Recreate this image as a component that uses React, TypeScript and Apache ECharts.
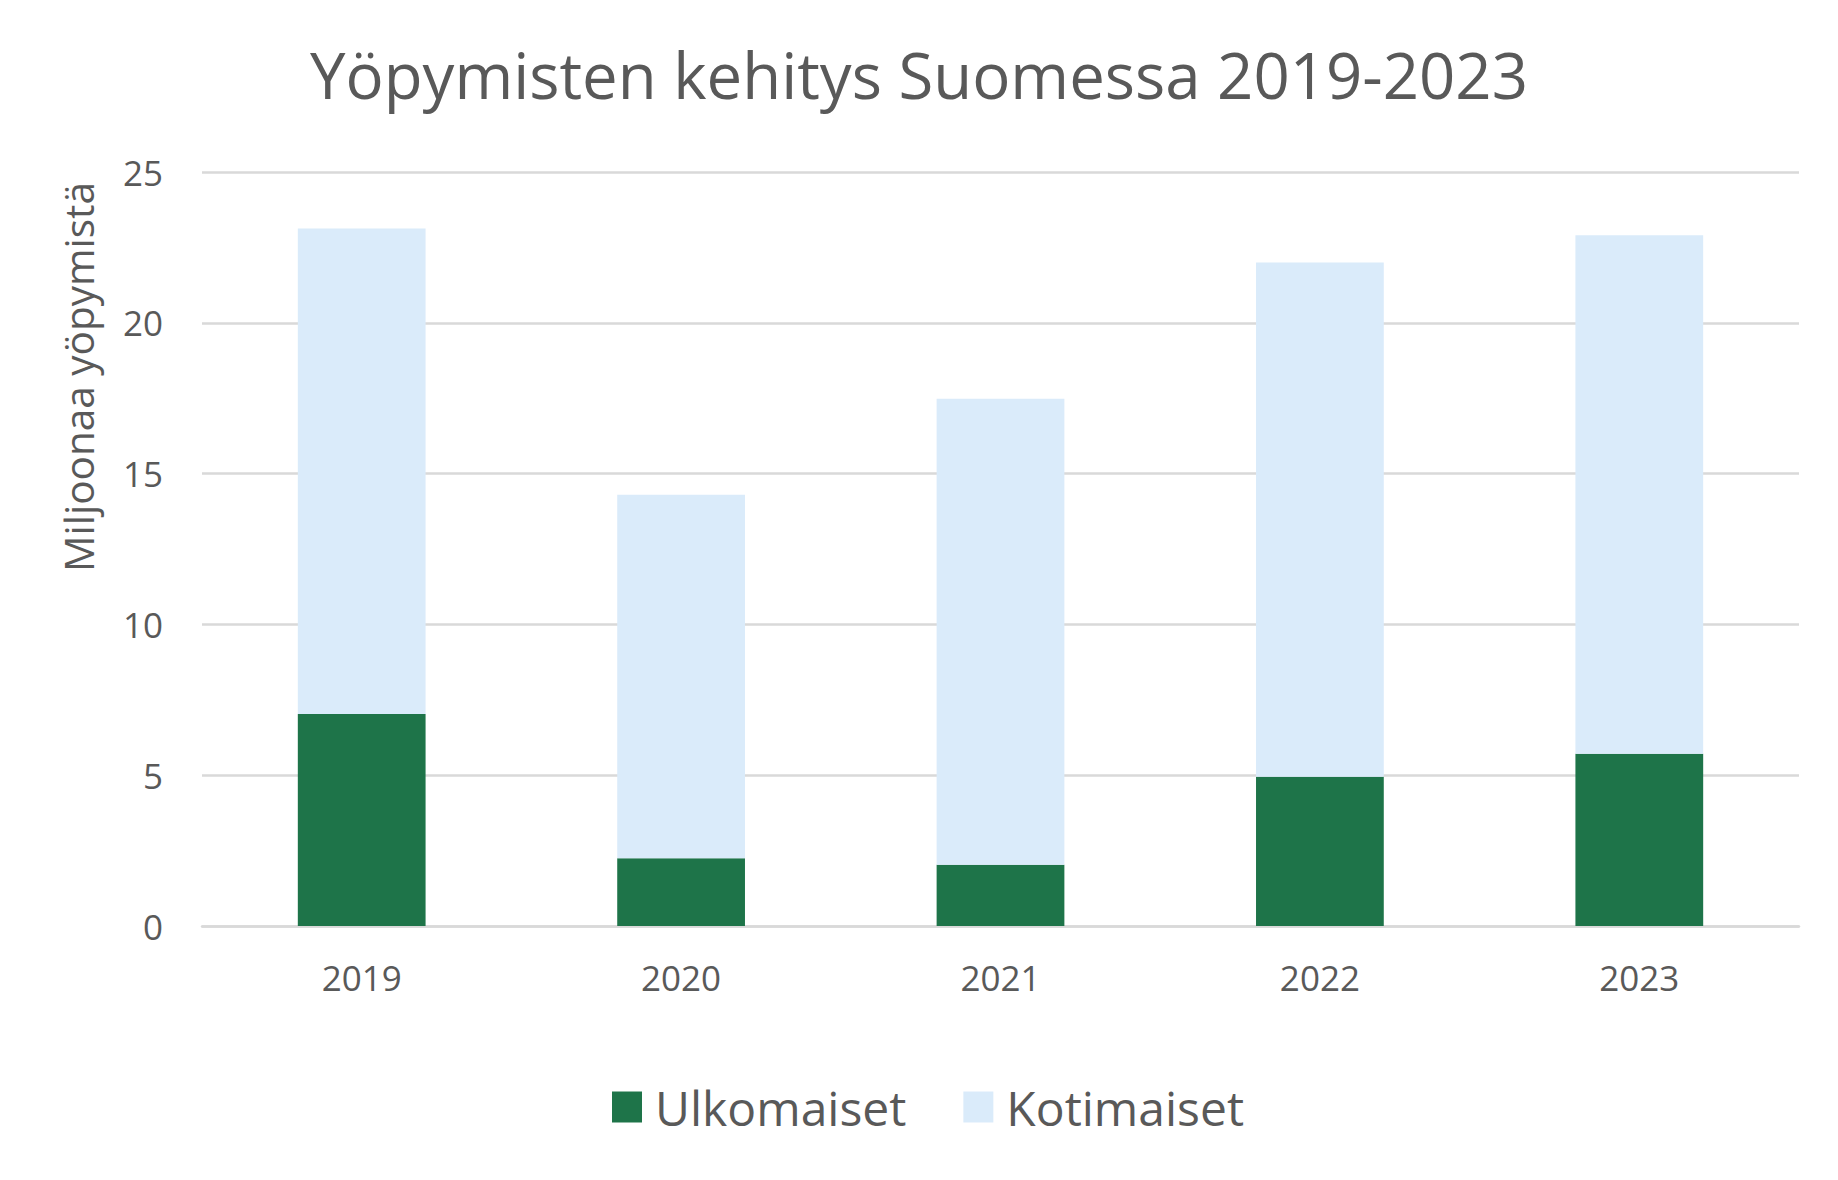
import React, { useEffect, useRef } from "react";
import * as echarts from "echarts";

const categories = ["2019", "2020", "2021", "2022", "2023"];
const ulkomaiset = [7.03, 2.25, 2.03, 4.95, 5.71];
const kotimaiset = [16.1, 12.05, 15.45, 17.05, 17.19];
const seriesNames = ["Ulkomaiset", "Kotimaiset"];
const titleText = "Yöpymisten kehitys Suomessa 2019-2023";
const yAxisName = "Miljoonaa yöpymistä";

const FONT = "'Open Sans', sans-serif";
const TEXT = "#595959";

export default function App() {
  const ref = useRef<HTMLDivElement>(null);
  useEffect(() => {
    document.body.style.margin = "0";
    const chart = echarts.init(ref.current!, undefined, { renderer: "svg" });
    chart.setOption({
      animation: false,
      backgroundColor: "#ffffff",
      title: {
        text: titleText,
        left: "center",
        top: 37,
        textStyle: { fontSize: 63.5, fontWeight: "normal", color: TEXT, fontFamily: FONT },
      },
      legend: {
        data: seriesNames,
        left: 607,
        top: 1078,
        itemWidth: 30,
        itemHeight: 31,
        itemGap: 57,
        icon: "rect",
        textStyle: { fontSize: 48, color: TEXT, fontFamily: FONT, padding: [0, 0, 0, 8] },
      },
      grid: { left: 202, right: 39, top: 172, bottom: 254, containLabel: false },
      xAxis: {
        type: "category",
        data: categories,
        axisLine: { show: true, lineStyle: { color: "#D9D9D9", width: 2.5 } },
        axisTick: { show: false },
        axisLabel: { color: TEXT, fontSize: 35, fontFamily: FONT, margin: 34 },
      },
      yAxis: {
        type: "value",
        min: 0,
        max: 25,
        interval: 5,
        axisLine: { show: false },
        axisTick: { show: false },
        splitLine: { lineStyle: { color: "#D9D9D9", width: 2.5 } },
        axisLabel: { color: TEXT, fontSize: 35, fontFamily: FONT, margin: 39 },
      },
      graphic: [
        {
          type: "text",
          x: 78,
          y: 377,
          rotation: Math.PI / 2,
          style: {
            text: yAxisName,
            fill: TEXT,
            font: `40.5px ${FONT}`,
            textAlign: "center",
            textVerticalAlign: "middle",
          },
        },
      ],
      series: [
        {
          name: seriesNames[0],
          type: "bar",
          stack: "total",
          data: ulkomaiset,
          barCategoryGap: "60%",
          itemStyle: { color: "#1E7449" },
        },
        {
          name: seriesNames[1],
          type: "bar",
          stack: "total",
          data: kotimaiset,
          barCategoryGap: "60%",
          itemStyle: { color: "#DAEBFA" },
        },
      ],
    });
    return () => chart.dispose();
  }, []);
  return (
    <div
      ref={ref}
      style={{ position: "fixed", left: 0, top: 0, width: 1838, height: 1180 }}
    />
  );
}
